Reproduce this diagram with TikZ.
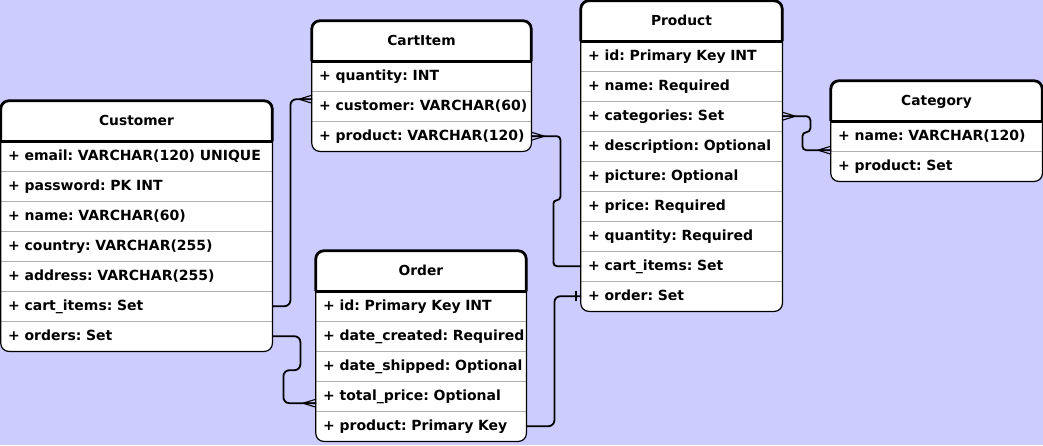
\documentclass[tikz,border=0pt]{standalone}
\usepackage{fontspec}
\setmainfont{DejaVu Sans}
\usetikzlibrary{backgrounds}
\frenchspacing

\definecolor{bgblue}{RGB}{204,204,255}
\definecolor{rowline}{RGB}{175,175,175}

\begin{document}
\begin{tikzpicture}[x=1pt, y=-1pt,
		head/.style={minimum height=40pt, minimum width=#1, inner sep=0pt, font=\fontsize{13.8}{16}\bfseries, text height=11pt, text depth=2pt},
		row/.style={anchor=north west, minimum height=30pt, inner xsep=7pt, inner ysep=0pt, text width=#1, align=left, font=\fontsize{14}{16}\bfseries, text height=11pt, text depth=2pt},
		link/.style={line width=1.8pt, rounded corners=6pt},
		crow/.pic={\draw[line width=1.1pt] (-13,0) -- (0,-4) (-13,0) -- (0,0) (-13,0) -- (0,4);},
		onebar/.pic={\draw[line width=1.4pt] (-5,-5) -- (-5,5);}]
		
		\useasboundingbox (0,0) rectangle (1043,445);
		\begin{scope}[on background layer]
			\fill[bgblue] (0,0) rectangle (1043,445);
		\end{scope}
		
		% Customer
		\node[head=271pt] (cust) at (136.5,121) {Customer};
		\foreach \t [count=\i] in {+ email: VARCHAR(120) UNIQUE, + password: PK INT, + name: VARCHAR(60), + country: VARCHAR(255), + address: VARCHAR(255), + cart\_items: Set, + orders: Set}
			\node[row=257pt] (cust-\i) at (1,{141+30*(\i-1)}) {\mbox{\t}};
		
		% CartItem
		\node[head=219pt] (cart) at (421.5,41) {CartItem};
		\foreach \t [count=\i] in {+ quantity: INT, + customer: VARCHAR(60), + product: VARCHAR(120)}
			\node[row=205pt] (cart-\i) at (312,{61+30*(\i-1)}) {\mbox{\t}};
		
		% Order
		\node[head=210pt] (ord) at (421,271) {Order};
		\foreach \t [count=\i] in {+ id: Primary Key INT, + date\_created: Required, + date\_shipped: Optional, + total\_price: Optional, + product: Primary Key}
			\node[row=196pt] (ord-\i) at (316,{291+30*(\i-1)}) {\mbox{\t}};
		
		% Product
		\node[head=201pt] (prod) at (681.5,21) {Product};
		\foreach \t [count=\i] in {+ id: Primary Key INT, + name: Required, + categories: Set, + description: Optional, + picture: Optional, + price: Required, + quantity: Required, + cart\_items: Set, + order: Set}
			\node[row=187pt] (prod-\i) at (581,{41+30*(\i-1)}) {\mbox{\t}};
		
		% Category
		\node[head=211pt] (cat) at (936.5,101) {Category};
		\foreach \t [count=\i] in {+ name: VARCHAR(120), + product: Set}
			\node[row=197pt] (cat-\i) at (831,{121+30*(\i-1)}) {\mbox{\t}};
		
		% table frames
		\foreach \tab/\n in {cust/7, cart/3, ord/5, prod/9, cat/2} {
			\begin{scope}[on background layer]
				\fill[white, rounded corners=8pt] (\tab.north west) rectangle (\tab-\n.south east);
			\end{scope}
			\foreach \i in {2,...,\n}
				\draw[rowline, line width=0.9pt] (\tab-\i.north west) -- (\tab-\i.north east);
			\draw[line width=1.2pt, rounded corners=8pt] (\tab.north west) rectangle (\tab-\n.south east);
			\draw[line width=2.8pt, rounded corners=8pt] (\tab.south west) |- (\tab.north) -| (\tab.south east);
			\draw[line width=2.6pt] (\tab.south west) -- (\tab.south east);
		}
		
		% relations
		\draw[link] (cust-6.east) -- ++(18,0) |- ([yshift=7pt]cart-2.west);
		\pic at ([yshift=7pt]cart-2.west) {crow};
		
		\draw[link] (cust-7.east) -- ++(28,0) -- ++(0,34) -- ++(-17,0) |- ([yshift=-7pt]ord-4.west);
		\pic at ([yshift=-7pt]ord-4.west) {crow};
		
		\draw[link] (ord-5.east) -- ++(28,0) |- (prod-9.west);
		\pic at (prod-9.west) {onebar};
		
		\draw[link, rounded corners=3.5pt] (cart-3.east) -- ++(29,0) -- ++(0,64) -- ++(-7,0) |- (prod-8.west);
		\pic[rotate=180] at (cart-3.east) {crow};
		
		\draw[link, rounded corners=4pt] (prod-3.east) -- ++(28,0) -- ++(0,16) -- ++(-8,0) |- ([yshift=-14pt]cat-1.west);
		\pic[rotate=180] at (prod-3.east) {crow};
		\pic at ([yshift=-14pt]cat-1.west) {crow};
	\end{tikzpicture}
\end{document}
